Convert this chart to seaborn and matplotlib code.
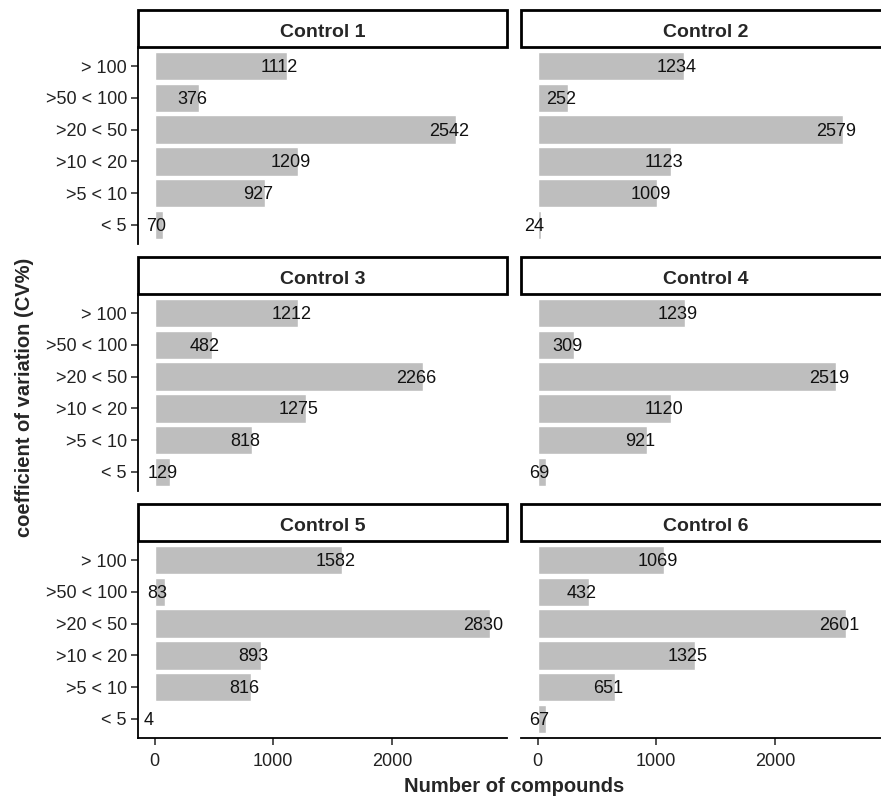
import pandas as pd
import matplotlib.pyplot as plt
import seaborn as sns
from matplotlib.patches import Rectangle

# Dados
categorias = ["> 100", ">50 < 100", ">20 < 50", ">10 < 20", ">5 < 10", "< 5"]
controles = ["Control 1", "Control 2", "Control 3", "Control 4", "Control 5", "Control 6"]
control_1 = [1112, 376, 2542, 1209, 927, 70]
control_2 = [1234, 252, 2579, 1123, 1009, 24]
control_3 = [1212, 482, 2266, 1275, 818, 129]
control_4 = [1239, 309, 2519, 1120, 921, 69]
control_5 = [1582, 83, 2830, 893, 816, 4]
control_6 = [1069, 432, 2601, 1325, 651, 67]
valores = [control_1, control_2, control_3, control_4, control_5, control_6]
x_ticks = [0, 1000, 2000]

linhas = []
for nome, vals in zip(controles, valores):
    for cat, v in zip(categorias, vals):
        linhas.append({"Control": nome, "CV": cat, "N": v})
df = pd.DataFrame(linhas)

sns.set_style("white")
plt.rcParams['font.family'] = ['Liberation Sans', 'DejaVu Sans']

W, H = 881, 800
fig = plt.figure(figsize=(W / 100, H / 100), dpi=100)

# layout em pixels
col_x = [138, 521]
col_w = 369
strip_h = 37
panel_h = 197
row_top = [10, 257, 504]

vmax = df["N"].max()
xlim = (-0.05 * vmax, 1.05 * vmax)

for i, nome in enumerate(controles):
    r, c = divmod(i, 2)
    x0 = col_x[c]
    y_strip = row_top[r]
    y_panel = y_strip + strip_h

    ax = fig.add_axes([x0 / W, 1 - (y_panel + panel_h) / H, col_w / W, panel_h / H])
    dados = df[df["Control"] == nome]
    sns.barplot(data=dados, x="N", y="CV", order=categorias, orient="h",
                color="#BEBEBE", saturation=1, width=0.9, ax=ax, errorbar=None)
    ax.set_xlim(*xlim)
    ax.set_ylim(len(categorias) - 0.4, -0.6)
    ax.set_xlabel("")
    ax.set_ylabel("")

    # rótulos com os valores
    for cat, v in zip(dados["CV"], dados["N"]):
        ax.annotate(str(v), xy=(v, categorias.index(cat)), xytext=(-5, -1),
                    textcoords="offset points", ha="center", va="center",
                    fontsize=13, color="#111111")

    for s in ["top", "right", "left", "bottom"]:
        ax.spines[s].set_visible(False)
    if c == 0:
        ax.spines["left"].set_visible(True)
        ax.spines["left"].set_linewidth(1.3)
        ax.spines["left"].set_color("black")
        ax.tick_params(axis="y", length=5, width=1.1, color="#222222",
                       labelsize=13, labelcolor="#222222", pad=3, left=True)
    else:
        ax.set_yticks([])
    if r == 2:
        ax.spines["bottom"].set_visible(True)
        ax.spines["bottom"].set_linewidth(1.3)
        ax.spines["bottom"].set_color("black")
        ax.set_xticks(x_ticks)
        ax.tick_params(axis="x", length=5, width=1.1, color="#222222",
                       labelsize=13, labelcolor="#222222", pad=6, bottom=True)
    else:
        ax.set_xticks([])

    # faixa do título (strip)
    fig.patches.append(Rectangle((x0 / W, 1 - (y_strip + strip_h) / H),
                                 col_w / W, strip_h / H, transform=fig.transFigure,
                                 facecolor="white", edgecolor="black", linewidth=2))
    fig.text((x0 + col_w / 2) / W, 1 - (y_strip + strip_h / 2 + 4) / H, nome,
             ha="center", va="center", fontsize=14, fontweight="bold")

fig.text(514 / W, 1 - 787 / H, "Number of compounds", ha="center", va="center",
         fontsize=14.5, fontweight="bold")
fig.text(25 / W, 1 - 397 / H, "coefficient of variation (CV%)", ha="center",
         va="center", rotation=90, fontsize=14.5, fontweight="bold")

plt.savefig("out.png", dpi=100)
